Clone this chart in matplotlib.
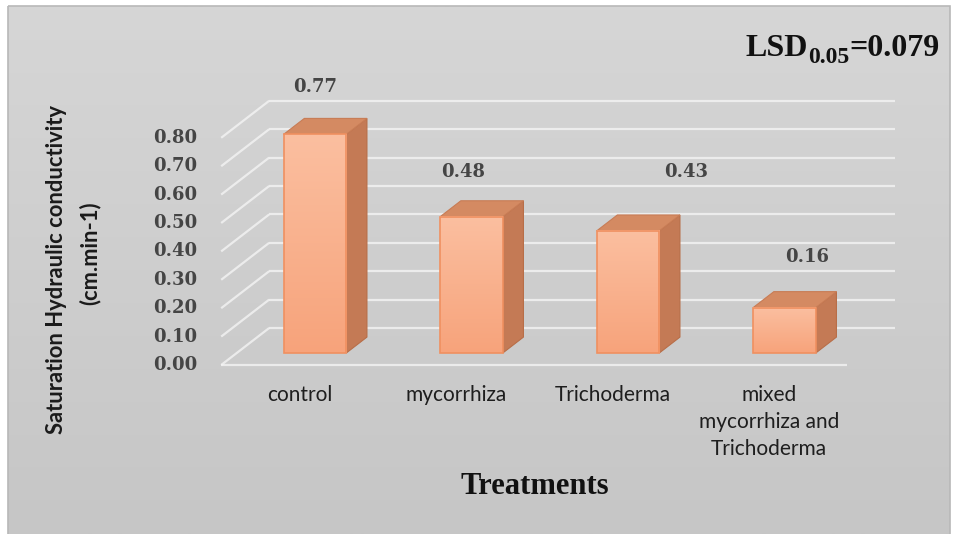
import numpy as np
import matplotlib
matplotlib.use("Agg")
import matplotlib.pyplot as plt
from matplotlib.patches import Polygon, Rectangle
from matplotlib.colors import LinearSegmentedColormap

# ---- data ----
categories = ["control", "mycorrhiza", "Trichoderma", "mixed\nmycorrhiza and\nTrichoderma"]
conductivity = [0.77, 0.48, 0.43, 0.16]
y_ticks = [0.0, 0.1, 0.2, 0.3, 0.4, 0.5, 0.6, 0.7, 0.8]
y_tick_labels = ["0.00", "0.10", "0.20", "0.30", "0.40", "0.50", "0.60", "0.70", "0.80"]
lsd_value = 0.079

# value-label nudges (pixels) relative to each bar's top-front centre
label_nudges = [(0, 47), (-8, 45), (58, 59), (23, 51)]

W, H = 959, 534
fig = plt.figure(figsize=(W / 100, H / 100), dpi=100)
fig.patch.set_facecolor("white")

# ---- chart area background (pixel coordinates, y downward) ----
bg = fig.add_axes([0, 0, 1, 1])
bg.set_xlim(0, W)
bg.set_ylim(H, 0)
bg.axis("off")
grad = np.linspace(0, 1, 256).reshape(-1, 1)
bg_cmap = LinearSegmentedColormap.from_list("bg", ["#d6d6d6", "#c6c6c6"])
bg.imshow(grad, cmap=bg_cmap, extent=[8, 950, 534, 6], aspect="auto", zorder=0)
bg.add_patch(Rectangle((8, 6), 942, 530, fill=False, edgecolor="#b8b8b8", lw=1.2, zorder=1))

# ---- 3-D column plot ----
PX_X = 156.5   # pixels per category
PX_Y = 284.0   # pixels per unit of conductivity
AX_L, AX_R, AX_T, AX_B = 200, 920, 60, 380
X0_PX, Y0_PX = 315, 353   # pixel position of category 0, value 0 on the bar plane

ax = fig.add_axes([AX_L / W, (H - AX_B) / H, (AX_R - AX_L) / W, (AX_B - AX_T) / H])
ax.patch.set_alpha(0)
ax.axis("off")

DX = 48 / PX_X     # full floor depth, horizontal
DY = 37 / PX_Y     # full floor depth, vertical
ZB = 12 / 37       # depth of bar front faces
BD = 0.43          # bar depth


def P(x, y, z):
    """Project a point at depth z (0 front edge, 1 back wall) onto the plot."""
    return (x + (z - ZB) * DX, y + (z - ZB) * DY)


n = len(categories)
xl, xr = -0.5, n - 0.5
grid_kw = dict(color="#f4f4f4", lw=1.6, alpha=0.8, zorder=2, solid_capstyle="butt")

# back-wall gridlines and side-wall diagonals
for v in y_ticks:
    a, b = P(xl, v, 1), P(xr, v, 1)
    ax.plot([a[0], b[0]], [a[1], b[1]], **grid_kw)
    c, d = P(xl, v, 0), P(xl, v, 1)
    ax.plot([c[0], d[0]], [c[1], d[1]], **grid_kw)

# floor front edge
a, b = P(xl, 0, 0), P(xr, 0, 0)
ax.plot([a[0], b[0]], [a[1], b[1]], **grid_kw)

# y tick labels along the front-left edge
for v, lab in zip(y_ticks, y_tick_labels):
    ax.annotate(lab, xy=P(xl, v, 0), xytext=(-24, 0), textcoords="offset pixels",
                ha="right", va="center", fontsize=13, fontweight="bold",
                family="DejaVu Serif", color="#454545", zorder=5)

front_cmap = LinearSegmentedColormap.from_list("front", ["#fbbfa0", "#f7a37b"])
hw = 0.2
for i, v in enumerate(conductivity):
    x0, x1 = i - hw, i + hw
    # side face
    side = Polygon([P(x1, 0, ZB), P(x1, 0, ZB + BD), P(x1, v, ZB + BD), P(x1, v, ZB)],
                   closed=True, facecolor="#c47a55", edgecolor="#b86e48", lw=0.8, zorder=3)
    ax.add_patch(side)
    # top face
    top = Polygon([P(x0, v, ZB), P(x1, v, ZB), P(x1, v, ZB + BD), P(x0, v, ZB + BD)],
                  closed=True, facecolor="#d48a62", edgecolor="#c87c55", lw=0.8, zorder=3)
    ax.add_patch(top)
    # front face with vertical gradient
    ax.imshow(grad, cmap=front_cmap, extent=[x0, x1, 0, v], aspect="auto", zorder=4)
    ax.add_patch(Rectangle((x0, 0), x1 - x0, v, fill=False, edgecolor="#f09060",
                           lw=1.2, zorder=4.5))
    # value label
    dxp, dyp = label_nudges[i]
    ax.annotate(f"{v:.2f}", xy=(i, v), xytext=(dxp, dyp), textcoords="offset pixels",
                ha="center", va="center", fontsize=13, fontweight="bold",
                family="DejaVu Serif", color="#454545", zorder=6)
    # category label
    ax.annotate(categories[i], xy=P(i, 0, 0), xytext=(0, -20), textcoords="offset pixels",
                ha="center", va="top", fontsize=15, family="Lato", color="#1e1e1e",
                linespacing=1.45, zorder=6)

ax.set_xlim((AX_L - X0_PX) / PX_X, (AX_R - X0_PX) / PX_X)
ax.set_ylim((Y0_PX - AX_B) / PX_Y, (Y0_PX - AX_T) / PX_Y)

# ---- titles ----
fig.text(57 / W, 1 - 270 / H, "Saturation Hydraulic conductivity", rotation=90,
         ha="center", va="center", fontsize=15.8, fontweight="bold", family="Lato",
         color="#1a1a1a")
fig.text(90 / W, 1 - 253 / H, "(cm.min-1)", rotation=90,
         ha="center", va="center", fontsize=15.8, fontweight="bold", family="Lato",
         color="#1a1a1a")
fig.text(535 / W, 1 - 486 / H, "Treatments", ha="center", va="center",
         fontsize=22, fontweight="bold", family="Liberation Serif", color="#111111")

# LSD annotation built from three chained pieces: main text, subscript, value
lsd_kw = dict(fontweight="bold", family="Liberation Serif", color="#111111")
t_main = fig.text(745 / W, 1 - 56 / H, "LSD", ha="left", va="baseline",
                  fontsize=23, **lsd_kw)
t_sub = bg.annotate("0.05", xy=(1, 0), xycoords=t_main, xytext=(1, -5),
                    textcoords="offset pixels", ha="left", va="bottom",
                    fontsize=17, **lsd_kw)
bg.annotate(f"={lsd_value:.3f}", xy=(1, 0), xycoords=t_sub, xytext=(0, 5),
            textcoords="offset pixels", ha="left", va="bottom", fontsize=23, **lsd_kw)

fig.savefig("out.png", dpi=100, facecolor=fig.get_facecolor())
